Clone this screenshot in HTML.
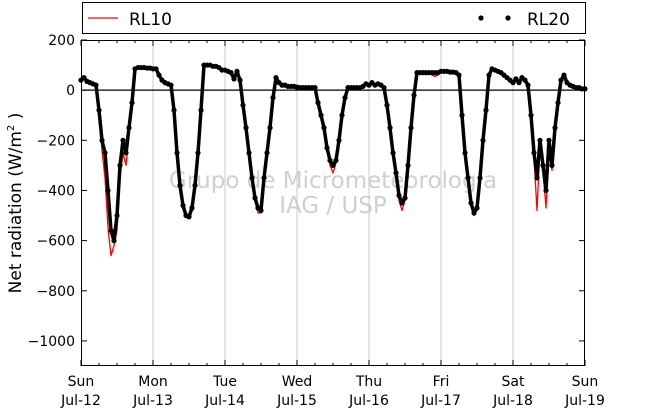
<!DOCTYPE html>
<html><head><meta charset="utf-8"><style>
html,body{margin:0;padding:0;background:#fff}
svg{display:block;font-family:"DejaVu Sans","Liberation Sans",sans-serif}
</style></head><body>
<svg id="chart" width="650" height="409" viewBox="0 0 650 409" xmlns="http://www.w3.org/2000/svg">
<g>
<rect x="82.5" y="2.5" width="503" height="31" fill="#fff" stroke="#000" stroke-width="1"/>
<line x1="88" y1="18" x2="118" y2="18" stroke="#f00" stroke-width="1.2"/>
<text x="129" y="25" font-size="17">RL10</text>
<circle cx="481" cy="18" r="2.6" fill="#000"/>
<circle cx="508" cy="18" r="2.6" fill="#000"/>
<text x="527" y="25" font-size="17">RL20</text>
</g>
<g fill="#cfcfcf" font-size="23" text-anchor="middle">
<text x="333" y="188">Grupo de Micrometeorologia</text>
<text x="333" y="213">IAG / USP</text>
</g>
<g id="grid"></g>
<g id="series"></g>
<g id="axes"></g>
<text transform="translate(21,203) rotate(-90)" text-anchor="middle" font-size="17">Net radiation (W/m<tspan font-size="10" dy="-7">2</tspan><tspan dy="7"> )</tspan></text>
</svg>
<script>
const dayLabels=["Sun","Mon","Tue","Wed","Thu","Fri","Sat","Sun"];
const dateLabels=["Jul-12","Jul-13","Jul-14","Jul-15","Jul-16","Jul-17","Jul-18","Jul-19"];
const yTicks=[200,0,-200,-400,-600,-800,-1000];
// hourly values, Sun Jul-12 00h .. Sun Jul-19 00h
const rl20=[
40,50,35,30,25,20,-80,-200,-250,-400,-560,-600,-500,-300,-200,-250,-150,-50,85,90,90,90,88,88,
85,85,60,40,30,25,20,-80,-250,-380,-460,-500,-505,-470,-380,-250,-80,100,100,100,95,95,90,80,
80,75,70,45,75,40,-60,-150,-250,-350,-430,-470,-480,-350,-250,-150,-30,50,30,20,20,15,15,15,
12,10,10,10,10,10,10,-50,-100,-150,-230,-280,-300,-280,-200,-100,-30,10,10,10,10,10,15,25,
20,30,20,25,20,10,-60,-150,-250,-330,-420,-450,-430,-300,-150,-20,70,70,70,70,70,70,70,70,
75,75,75,72,72,70,60,-100,-250,-350,-450,-490,-470,-350,-200,-80,60,85,80,75,70,60,50,40,
30,45,30,50,40,20,-100,-250,-350,-200,-300,-400,-200,-300,-150,-50,40,60,30,20,15,10,10,5,
5];
const rl10=[
40,55,35,30,25,20,-100,-240,-350,-550,-660,-620,-560,-350,-250,-300,-180,-60,85,90,90,90,88,88,
85,85,60,40,30,25,20,-80,-250,-380,-460,-500,-510,-470,-380,-250,-80,105,100,100,95,95,90,80,
80,75,70,45,75,40,-60,-150,-250,-350,-440,-490,-490,-350,-250,-150,-30,50,30,20,20,15,15,15,
12,10,10,10,10,10,10,-50,-100,-160,-240,-300,-330,-290,-200,-100,-30,10,10,10,10,10,15,25,
20,30,20,25,20,10,-60,-150,-260,-340,-440,-480,-440,-300,-150,-20,70,70,70,70,70,60,55,60,
75,75,75,72,72,70,60,-100,-250,-350,-450,-500,-480,-350,-200,-80,60,85,80,75,70,60,50,40,
30,45,30,50,40,20,-120,-270,-480,-220,-320,-470,-220,-320,-150,-50,40,60,30,20,15,10,10,5,
5];
const X0=81,X1=585,Y0=40,Y1=366,YMAX=200,YMIN=-1100,DAYS=7;
const xs=h=>X0+(X1-X0)*h/(DAYS*24);
const ys=v=>Y0+(Y1-Y0)*(YMAX-v)/(YMAX-YMIN);
const NS="http://www.w3.org/2000/svg";
function mk(tag,attrs,parent){const e=document.createElementNS(NS,tag);for(const k in attrs)e.setAttribute(k,attrs[k]);parent.appendChild(e);return e;}
const grid=document.getElementById('grid'),series=document.getElementById('series'),axes=document.getElementById('axes');
for(let d=1;d<DAYS;d++){const l=mk('line',{x1:xs(d*24),x2:xs(d*24),y1:Y0,y2:Y1,stroke:'#c8c8c8','stroke-width':1},grid);

}
const zl=mk('line',{x1:X0,x2:X1,y1:ys(0),y2:ys(0),stroke:'#000','stroke-width':1.2},grid);


const pts=a=>a.map((v,i)=>xs(i).toFixed(1)+','+ys(v).toFixed(1)).join(' ');
const p10=mk('polyline',{points:pts(rl10),fill:'none',stroke:'#f00','stroke-width':1.3,'stroke-linejoin':'round'},series);


const p20=mk('polyline',{points:pts(rl20),fill:'none',stroke:'#000','stroke-width':3.5,'stroke-linejoin':'round','stroke-linecap':'round'},series);


rl20.forEach((v,i)=>{const c=mk('circle',{cx:xs(i),cy:ys(v),r:2.6,fill:'#000'},series);

});
const fr=mk('rect',{x:X0+0.5,y:Y0+0.5,width:X1-X0-1,height:Y1-Y0-1,fill:'none',stroke:'#000','stroke-width':1},axes);


for(let h=0;h<=DAYS*24;h+=6){const len=(h%24===0)?6:3;
const t1=mk('line',{x1:xs(h),x2:xs(h),y1:Y1,y2:Y1-len,stroke:'#000'},axes);


const t2=mk('line',{x1:xs(h),x2:xs(h),y1:Y0,y2:Y0+len,stroke:'#000'},axes);

}
dayLabels.forEach((d,i)=>{const t=mk('text',{x:xs(i*24),y:386,'text-anchor':'middle','font-size':14},axes);t.textContent=d;


const t2=mk('text',{x:xs(i*24),y:405,'text-anchor':'middle','font-size':14},axes);t2.textContent=dateLabels[i];

});
yTicks.forEach(v=>{const a=mk('line',{x1:X0,x2:X0+6,y1:ys(v),y2:ys(v),stroke:'#000'},axes);


const b=mk('line',{x1:X1-6,x2:X1,y1:ys(v),y2:ys(v),stroke:'#000'},axes);


const t=mk('text',{x:75,y:ys(v)+5,'text-anchor':'end','font-size':14},axes);t.textContent=v<0?'\u2212'+(-v):String(v);

});
</script>
</body></html>
